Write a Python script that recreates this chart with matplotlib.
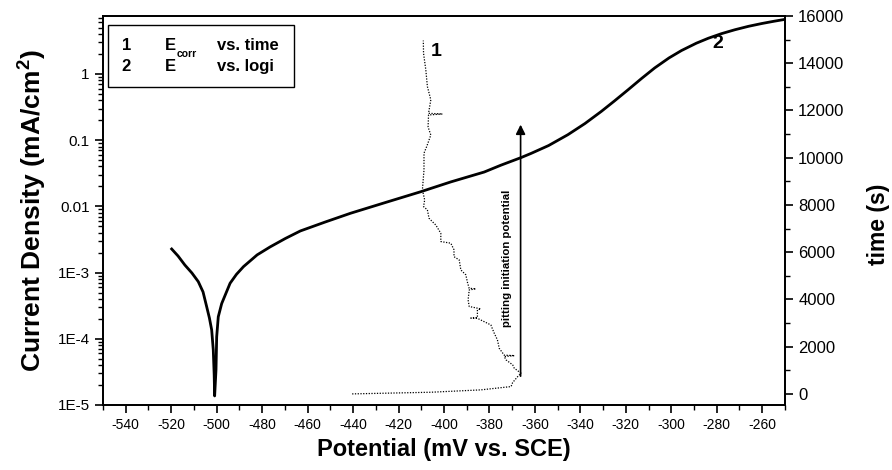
import numpy as np
import matplotlib
matplotlib.use("Agg")
import matplotlib.pyplot as plt
import matplotlib.ticker as mticker
from matplotlib.patches import Rectangle

plt.rcParams['font.family'] = ['Liberation Sans', 'DejaVu Sans']
plt.rcParams['mathtext.fontset'] = 'custom'
plt.rcParams['mathtext.rm'] = 'Liberation Sans'
plt.rcParams['mathtext.bf'] = 'Liberation Sans:bold'

# polarization curve (E vs. log i)
pol_E = [-519.8, -517.0, -514.0, -510.9, -508.1, -506.0, -504.4, -503.2,
         -502.2, -501.5, -501.1, -500.9, -500.3, -500.0, -499.3, -497.8,
         -496.0, -494.1, -491.3, -488.2, -482.2, -476.5, -469.8, -463.2,
         -452.2, -441.1, -425.7, -410.3, -397.0, -382.3, -375.0, -366.1,
         -361.7, -354.0, -345.5, -338.0, -330.8, -325.0, -319.0, -313.0,
         -307.3, -301.0, -295.5, -289.0, -283.7, -278.0, -272.0, -266.0,
         -260.2, -255.0, -249.5]
pol_i = [2.27e-3, 1.78e-3, 1.30e-3, 9.86e-4, 7.3e-4, 5.1e-4, 3.05e-4, 2.06e-4,
         1.36e-4, 6.8e-5, 2.84e-5, 1.37e-5, 3.4e-5, 1.07e-4, 2.15e-4, 3.4e-4,
         4.8e-4, 6.9e-4, 9.4e-4, 1.23e-3, 1.85e-3, 2.44e-3, 3.27e-3, 4.25e-3,
         5.81e-3, 7.87e-3, 0.01145, 0.0166, 0.0234, 0.033, 0.0418, 0.0545,
         0.063, 0.0828, 0.1208, 0.178, 0.2714, 0.391, 0.577, 0.858,
         1.232, 1.745, 2.257, 2.91, 3.46, 4.05, 4.65, 5.24,
         5.77, 6.23, 6.71]

# open circuit potential vs. time
ocp_t = [0, 70, 170, 310, 480, 730, 875, 1090, 1230, 1440, 1580, 1620, 1640,
         1930, 2290, 2570, 2920, 3200, 3210, 3230, 3560, 3600, 3700, 3980,
         4400, 4450, 4470, 4690, 5040, 5250, 5670, 5810, 6100, 6380, 6450,
         6800, 7150, 7290, 7440, 7790, 7930, 8210, 8640, 9480, 10190, 10500,
         10960, 11300, 11810, 11850, 11880, 12450, 13010, 13720, 14420, 14960]
ocp_E = [-440.4, -405.8, -383.8, -370.5, -369.8, -367.6, -366.1, -369.1,
         -369.8, -372.7, -373.5, -369.0, -373.5, -375.7, -376.5, -377.9,
         -379.4, -385.3, -388.2, -385.3, -385.3, -383.8, -388.9, -389.4,
         -388.9, -386.0, -388.9, -389.6, -390.4, -392.6, -393.3, -395.6,
         -395.6, -397.0, -401.4, -401.4, -403.6, -405.1, -406.6, -407.3,
         -409.0, -408.5, -409.5, -408.8, -408.8, -407.5, -405.8, -407.0,
         -406.8, -400.7, -406.8, -405.8, -407.3, -408.0, -409.0, -409.1]

E_pit = -366.3
arrow_t = [750, 11400]

x_ticks = list(range(-540, -259, 20))
y_ticks = [1e-5, 1e-4, 1e-3, 1e-2, 1e-1, 1]
y_labels = ['1E-5', '1E-4', '1E-3', '0.01', '0.1', '1']
t_ticks = list(range(0, 16001, 2000))

fig = plt.figure(figsize=(8.92, 4.70), dpi=100)
ax = fig.add_axes([0.1155, 0.1383, 0.7645, 0.8277])
ax2 = ax.twinx()

ax.plot(pol_E, pol_i, color='black', lw=2.0, solid_joinstyle='round')
ax.set_yscale('log')
ax.set_xlim(-550, -250)
ax.set_ylim(1e-5, 7.5)
ax.set_xticks(x_ticks)
ax.set_xticklabels([str(v) for v in x_ticks], fontsize=10)
ax.xaxis.set_minor_locator(mticker.MultipleLocator(10))
ax.set_yticks(y_ticks)
ax.set_yticklabels(y_labels, fontsize=11)
ax.yaxis.set_minor_locator(mticker.LogLocator(base=10, subs=np.arange(2, 10)))
ax.yaxis.set_minor_formatter(mticker.NullFormatter())
ax.tick_params(which='major', direction='out', length=6, width=1.2)
ax.tick_params(which='minor', direction='out', length=3.5, width=1.0)
ax.set_xlabel('Potential (mV vs. SCE)', fontsize=17, fontweight='bold', labelpad=4)
ax.set_ylabel(r'Current Density (mA/cm$^{\mathbf{2}}$)', fontsize=19,
              fontweight='bold', labelpad=7)

ax2.plot(ocp_E, ocp_t, color='black', lw=0.9, linestyle=(0, (1, 1.2)))
ax2.set_ylim(-470, 16000)
ax2.set_yticks(t_ticks)
ax2.set_yticklabels([str(v) for v in t_ticks], fontsize=12)
ax2.yaxis.set_minor_locator(mticker.MultipleLocator(1000))
ax2.tick_params(which='major', direction='out', length=6, width=1.2)
ax2.tick_params(which='minor', direction='out', length=3.5, width=1.0)
ax2.set_ylabel('time (s)', fontsize=16.5, fontweight='bold')
ax2.yaxis.set_label_coords(1.12, 0.465)

for a in (ax, ax2):
    for s in a.spines.values():
        s.set_linewidth(1.3)

# pitting arrow
ax2.annotate('', xy=(E_pit, arrow_t[1]), xytext=(E_pit, arrow_t[0]),
             arrowprops=dict(arrowstyle='-|>', color='black', lw=1.2,
                             mutation_scale=14, shrinkA=0, shrinkB=0))
ax2.text(E_pit - 6, 5750, 'pitting initiation potential', rotation=90,
         fontsize=8.2, fontweight='bold', ha='center', va='center')

ax2.text(-403.6, 14480, '1', fontsize=14, fontweight='bold', ha='center', va='center')
ax2.text(-279.6, 14820, '2', fontsize=14, fontweight='bold', ha='center', va='center')

# legend box
ax.add_patch(Rectangle((0.0078, 0.817), 0.272, 0.16, transform=ax.transAxes,
                       fill=False, lw=1.0, ec='black', zorder=5))
for row, (num, sub, desc) in enumerate([('1', 'corr', 'vs. time'), ('2', '', 'vs. logi')]):
    yy = 0.925 - row * 0.056
    ax.text(0.0274, yy, num, transform=ax.transAxes, fontsize=12,
            fontweight='bold', va='center', ha='left')
    ax.text(0.0909, yy, 'E', transform=ax.transAxes, fontsize=12,
            fontweight='bold', va='center', ha='left')
    if sub:
        ax.text(0.108, yy - 0.022, sub, transform=ax.transAxes, fontsize=7.5,
                fontweight='bold', va='center', ha='left')
    ax.text(0.1666, yy, desc, transform=ax.transAxes, fontsize=12,
            fontweight='bold', va='center', ha='left')

fig.savefig('out.png', dpi=100)
